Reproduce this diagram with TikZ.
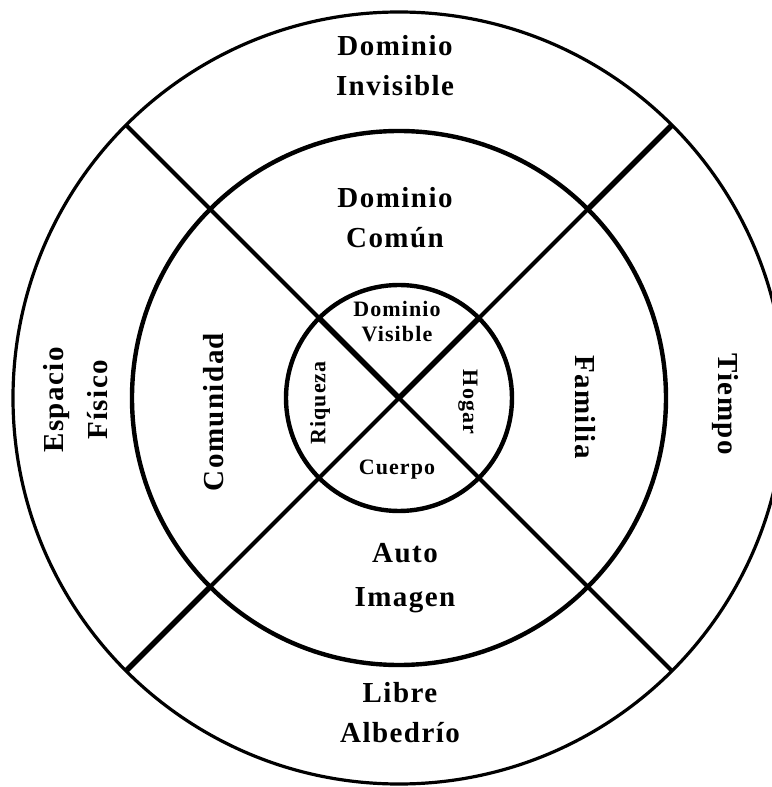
\documentclass[tikz,border=0pt]{standalone}
\usepackage{fontspec}
\setmainfont{Liberation Serif}[LetterSpace=5]
\begin{document}
\begin{tikzpicture}[x=1pt, y=1pt,
    every node/.style={font=\bfseries\fontsize{29}{40}\selectfont, align=center},
    ring/.style={line width=4.4pt},
    spoke/.style={line width=4pt},
    heavy/.style={line width=5.6pt},
    small/.style={font=\bfseries\fontsize{22}{25}\selectfont}]
    \useasboundingbox (-399,-389) rectangle (372,398);
    \coordinate (c) at (0,0);

    % Kreise
    \draw[line width=3.2pt] (c) circle (386);
    \draw[ring] (c) circle (267);
    \draw[ring] (c) circle (113);

    % Kreuz
    \foreach \a in {45,135,225,315}
        \draw[spoke] (c) -- (\a:386);
    \draw[heavy] (45:267) -- (45:386);
    \draw[heavy] (225:267) -- (225:386);
    \draw[heavy] (c) -- (135:113);
    \draw[heavy] (c) -- (45:113);

    % innerer Ring
    \node[small] (visible) at (-2,76) {Dominio\\Visible};
    \node[small] (cuerpo) at (-2,-72) {Cuerpo};
    \node[small, rotate=90] (riqueza) at (-79,-5) {Riqueza};
    \node[small, rotate=-90] (hogar) at (69,-4) {Hogar};

    % mittlerer Ring
    \node (comun) at (-4,180) {Dominio\\Común};
    \node[rotate=90] (comunidad) at (-185,-14) {Comunidad};
    \node[rotate=-90] (familia) at (186,-9) {Familia};
    \node (auto) at (6,-180) {Auto\\[4pt]Imagen};

    % aeusserer Ring
    \node (invisible) at (-4,332) {Dominio\\Invisible};
    \node[rotate=90] (espacio) at (-323,-2) {Espacio\\[4pt]Físico};
    \node[rotate=-90] (tiempo) at (326,-6) {Tiempo};
    \node (libre) at (1,-315) {Libre\\Albedrío};
\end{tikzpicture}
\end{document}
